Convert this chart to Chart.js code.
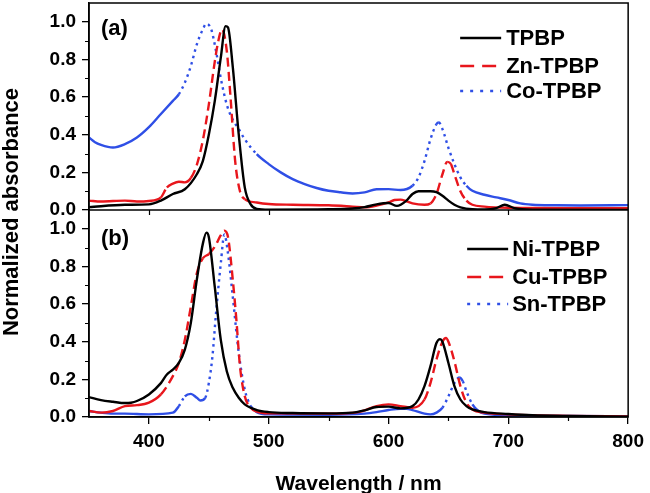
<!DOCTYPE html>
<html>
<head>
<meta charset="utf-8">
<script src="https://cdn.jsdelivr.net/npm/chart.js@4.4.0/dist/chart.umd.min.js"></script>
<style>
  html, body { margin: 0; padding: 0; background: #fff; }
  #wrap { width: 650px; height: 493px; }
</style>
</head>
<body>
<div id="wrap"><canvas id="chart" width="650" height="493"></canvas></div>
<script>
// panel (a)
var tpbpNm = [350,380,400,410,420,430,440,445,450,455,460,464,466,470,475,480,485,490,500,550,570,580,590,600,607,615,620,625,635,640,645,650,655,660,670,680,690,697,705,720,800]
var tpbpAbs = [0.015,0.028,0.03,0.05,0.085,0.11,0.19,0.26,0.40,0.58,0.81,0.977,0.97,0.76,0.40,0.12,0.03,0.006,0.002,0.004,0.008,0.015,0.03,0.037,0.022,0.05,0.085,0.10,0.10,0.095,0.076,0.05,0.028,0.014,0.004,0.003,0.01,0.028,0.01,0.002,0.0]

var znNm = [350,360,380,390,400,410,415,420,425,430,435,440,445,450,455,458,461,465,468,472,476,480,490,500,520,550,570,580,590,600,605,610,615,620,630,635,640,645,649,652,655,660,665,670,680,700,750,800]
var znAbs = [0.05,0.045,0.05,0.045,0.048,0.067,0.12,0.14,0.15,0.147,0.17,0.24,0.37,0.56,0.79,0.9,0.96,0.845,0.61,0.26,0.10,0.058,0.04,0.032,0.028,0.025,0.018,0.014,0.023,0.04,0.053,0.055,0.046,0.035,0.028,0.035,0.085,0.19,0.256,0.245,0.19,0.10,0.05,0.028,0.018,0.012,0.01,0.01]

var coNm = [350,355,360,370,380,390,400,410,420,425,430,435,440,445,448,452,456,460,465,470,475,480,490,500,510,520,530,540,550,560,570,580,590,600,610,620,625,630,635,640,642,645,650,655,660,665,670,680,690,700,710,720,740,760,800]
var coAbs = [0.385,0.36,0.346,0.332,0.35,0.385,0.44,0.51,0.58,0.615,0.677,0.765,0.88,0.96,0.99,0.96,0.845,0.70,0.56,0.48,0.43,0.376,0.297,0.244,0.20,0.164,0.138,0.117,0.102,0.094,0.088,0.094,0.11,0.111,0.106,0.129,0.173,0.26,0.376,0.456,0.465,0.43,0.33,0.244,0.173,0.129,0.102,0.081,0.067,0.053,0.035,0.028,0.025,0.024,0.026]

// panel (b)
var niNm = [350,360,370,380,385,390,400,410,415,420,425,430,435,440,445,448,450,455,460,465,470,475,480,490,500,520,550,570,580,590,600,610,620,625,630,635,640,643,645,650,655,660,665,670,680,700,720,750,800]
var niAbs = [0.106,0.09,0.081,0.074,0.076,0.085,0.12,0.18,0.226,0.252,0.287,0.358,0.50,0.73,0.92,0.98,0.957,0.69,0.41,0.243,0.155,0.102,0.067,0.037,0.026,0.021,0.019,0.023,0.035,0.053,0.055,0.046,0.058,0.093,0.164,0.27,0.393,0.414,0.40,0.287,0.164,0.093,0.058,0.04,0.026,0.016,0.009,0.005,0.002]

var cuNm = [350,360,370,380,390,400,410,420,425,430,435,440,445,450,455,460,463,466,470,473,476,480,485,490,500,550,575,590,600,610,620,630,635,640,645,648,650,655,660,665,670,680,700,750,800]
var cuAbs = [0.032,0.023,0.032,0.058,0.063,0.076,0.12,0.217,0.287,0.41,0.587,0.764,0.843,0.866,0.905,0.966,0.99,0.957,0.73,0.517,0.27,0.111,0.049,0.028,0.019,0.018,0.026,0.058,0.067,0.058,0.049,0.093,0.18,0.305,0.40,0.42,0.40,0.296,0.164,0.076,0.04,0.023,0.014,0.006,0.003]

var snNm = [350,360,370,380,400,420,425,430,435,440,443,447,450,453,456,460,463,466,470,475,480,485,490,500,550,580,590,600,610,615,620,630,635,640,645,650,655,659,662,665,670,675,680,700,750,800]
var snAbs = [0.032,0.023,0.018,0.018,0.014,0.023,0.058,0.11,0.123,0.102,0.088,0.102,0.18,0.32,0.55,0.816,0.97,0.87,0.64,0.34,0.146,0.058,0.026,0.014,0.012,0.018,0.026,0.037,0.044,0.044,0.037,0.018,0.014,0.023,0.049,0.11,0.18,0.21,0.19,0.137,0.067,0.032,0.018,0.009,0.005,0.003]

var xTicks = [400, 500, 600, 700, 800]
var yTicks = [0, 0.2, 0.4, 0.6, 0.8, 1.0]

const FONT = "'Liberation Sans', Arial, sans-serif"
const BLACK = '#000000'
const RED = '#e8161c'
const BLUE = '#2f4fe6'

var toPoints = (nm, abs) => nm.map((v, i) => ({x: v, y: abs[i]}))

var dashOf = {solid: [], dash: [9, 5], dot: [2.5, 4]}
var colorOf = {solid: BLACK, dash: RED, dot: BLUE}

// the dash only shows up where the trace is steep, like the original plot
var steep = (c) => Math.abs(c.p1.y - c.p0.y) > 1.1 * Math.abs(c.p1.x - c.p0.x)

var makeSet = (label, nm, abs, kind, axis) => ({
  label: label,
  data: toPoints(nm, abs),
  yAxisID: axis,
  borderColor: colorOf[kind],
  borderDash: [],
  borderWidth: 2.4,
  pointRadius: 0,
  cubicInterpolationMode: 'monotone',
  fill: false,
  kind: kind,
  segment: {
    borderDash: (c) => steep(c) ? dashOf[kind] : []
  }
})

var datasets = [
  makeSet('TPBP', tpbpNm, tpbpAbs, 'solid', 'yA'),
  makeSet('Zn-TPBP', znNm, znAbs, 'dash', 'yA'),
  makeSet('Co-TPBP', coNm, coAbs, 'dot', 'yA'),
  makeSet('Ni-TPBP', niNm, niAbs, 'solid', 'yB'),
  makeSet('Cu-TPBP', cuNm, cuAbs, 'dash', 'yB'),
  makeSet('Sn-TPBP', snNm, snAbs, 'dot', 'yB')
]

// frame, minor ticks, panel labels, legends and the y title
const decorPlugin = {
  id: 'decor',
  afterDraw(chart) {
    const ctx = chart.ctx
    const area = chart.chartArea
    const xs = chart.scales.x
    const ya = chart.scales.yA
    const yb = chart.scales.yB

    ctx.save()
    ctx.strokeStyle = BLACK
    ctx.lineWidth = 1.5
    ctx.strokeRect(area.left, area.top, area.right - area.left, area.bottom - area.top)
    ctx.beginPath()
    ctx.moveTo(area.left, ya.bottom)
    ctx.lineTo(area.right, ya.bottom)
    ctx.stroke()

    // minor ticks
    ctx.lineWidth = 1.2
    ctx.beginPath()
    for (let s of [ya, yb]) {
      for (let v of [0.1, 0.3, 0.5, 0.7, 0.9]) {
        let py = Math.round(s.getPixelForValue(v)) + 0.5
        ctx.moveTo(area.left - 4, py)
        ctx.lineTo(area.left, py)
      }
    }
    for (let v of [450, 550, 650, 750]) {
      let px = Math.round(xs.getPixelForValue(v)) + 0.5
      ctx.moveTo(px, area.bottom)
      ctx.lineTo(px, area.bottom + 4)
    }
    for (let v of [400, 500, 600, 700]) {
      let px = Math.round(xs.getPixelForValue(v)) + 0.5
      ctx.moveTo(px, ya.bottom)
      ctx.lineTo(px, ya.bottom + 5)
    }
    ctx.stroke()

    // panel labels
    ctx.fillStyle = BLACK
    ctx.font = "bold 22px " + FONT
    ctx.textBaseline = 'middle'
    ctx.textAlign = 'left'
    ctx.fillText('(a)', area.left + 12, ya.top + 26)
    ctx.fillText('(b)', area.left + 12, yb.top + 29)

    // legends
    const legendRows = [
      {panel: ya, lineX: area.right - 168, textX: area.right - 122, rows: [35, 63, 88]},
      {panel: yb, lineX: area.right - 161, textX: area.right - 116, rows: [39, 67, 94]}
    ]
    ctx.font = "bold 22px " + FONT
    legendRows.forEach((lg, li) => {
      for (let r = 0; r < 3; r++) {
        let ds = datasets[li * 3 + r]
        let py = lg.panel.top + lg.rows[r]
        ctx.strokeStyle = ds.borderColor
        ctx.lineWidth = 2.6
        ctx.setLineDash(ds.kind == 'dash' ? [14, 8] : ds.kind == 'dot' ? [3, 7] : [])
        ctx.beginPath()
        ctx.moveTo(lg.lineX, py)
        ctx.lineTo(lg.lineX + 41, py)
        ctx.stroke()
        ctx.setLineDash([])
        ctx.fillStyle = BLACK
        ctx.fillText(ds.label, lg.textX, py + 1)
      }
    })

    // shared y title
    ctx.translate(12, 212)
    ctx.rotate(-Math.PI / 2)
    ctx.textAlign = 'center'
    ctx.font = "bold 22px " + FONT
    ctx.fillText('Normalized absorbance', 0, 0)
    ctx.restore()
  }
}

var yAxis = (weight) => ({
  type: 'linear',
  position: 'left',
  stack: 'panels',
  stackWeight: 1,
  weight: weight,
  min: 0,
  max: 1.1,
  afterFit: (s) => { s.width = 63; s.paddingTop = 0; s.paddingBottom = 0 },
  afterBuildTicks: (s) => { s.ticks = yTicks.map(v => ({value: v})) },
  border: {display: true, color: BLACK, width: 1.5},
  grid: {drawOnChartArea: false, drawTicks: true, tickLength: 7, color: BLACK, lineWidth: 1.3},
  ticks: {
    color: BLACK,
    padding: 6,
    autoSkip: false,
    font: {family: FONT, size: 19, weight: 'bold'},
    callback: (v) => v.toFixed(1)
  }
})

new Chart(document.getElementById('chart').getContext('2d'), {
  type: 'line',
  data: {datasets: datasets},
  options: {
    responsive: false,
    animation: false,
    layout: {padding: {left: 26, right: 20, top: 3, bottom: 0}},
    plugins: {legend: {display: false}, tooltip: {enabled: false}},
    scales: {
      x: {
        type: 'linear',
        min: 350,
        max: 800,
        afterFit: (s) => { s.height = 76 },
        afterBuildTicks: (s) => { s.ticks = xTicks.map(v => ({value: v})) },
        border: {display: true, color: BLACK, width: 1.5},
        grid: {drawOnChartArea: false, drawTicks: true, tickLength: 7, color: BLACK, lineWidth: 1.3},
        ticks: {
          color: BLACK,
          padding: 6,
          maxRotation: 0,
          autoSkip: false,
          font: {family: FONT, size: 19, weight: 'bold'}
        },
        title: {
          display: true,
          text: 'Wavelength / nm',
          color: BLACK,
          padding: {top: 10, bottom: -2},
          font: {family: FONT, size: 21, weight: 'bold', lineHeight: 1.0}
        }
      },
      yA: yAxis(2),
      yB: yAxis(1)
    }
  },
  plugins: [decorPlugin]
})
</script>
</body>
</html>
